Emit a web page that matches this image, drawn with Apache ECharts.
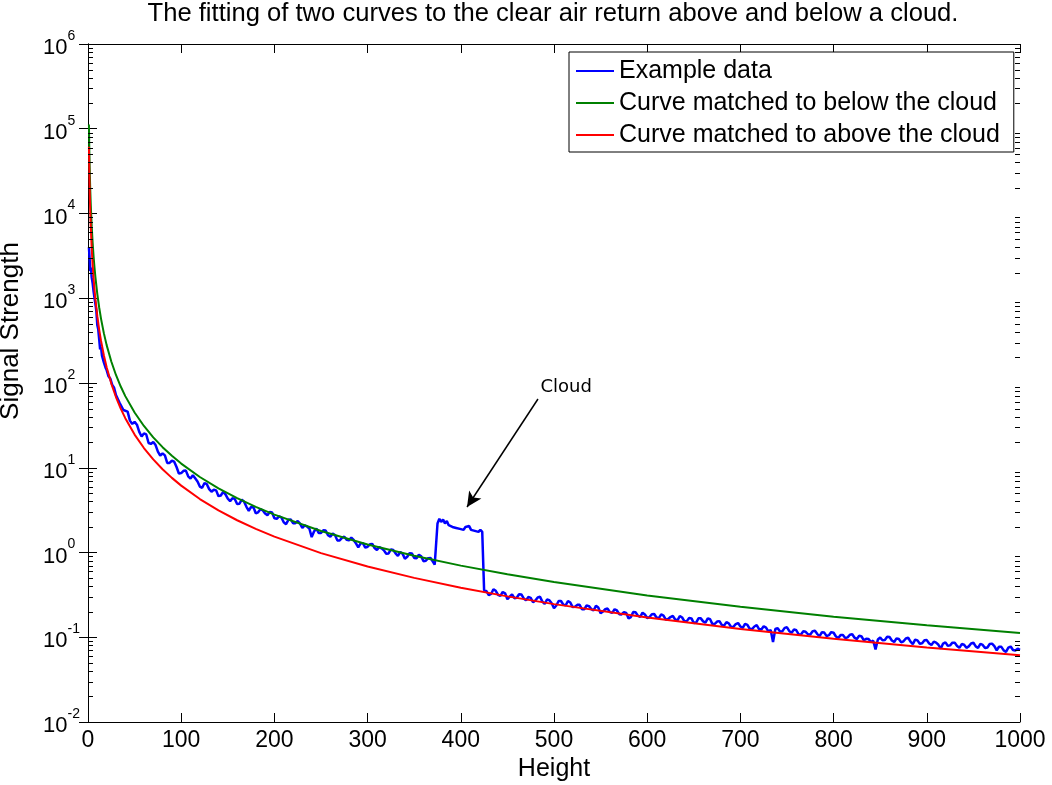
<!DOCTYPE html>
<html><head><meta charset="utf-8">
<script src="https://cdn.jsdelivr.net/npm/echarts@6/dist/echarts.min.js"></script>
<style>html,body{margin:0;padding:0;background:#fff}#c{width:1052px;height:785px}</style>
</head><body><div id="c"></div>
<script>
// ---- data ----
const titleText = 'The fitting of two curves to the clear air return above and below a cloud.';
const seriesNames = ['Example data', 'Curve matched to below the cloud', 'Curve matched to above the cloud'];
const xTickValues = [0,100,200,300,400,500,600,700,800,900,1000];
const yDecades = [-2,-1,0,1,2,3,4,5,6];
const minorMultipliers = [2,3,4,5,6,7,8,9];

const blueHeight = [
  1,2,2.5,3,4,5,6,7,8,9,10,11,12,13,14,15,16,17,18,19,20,22,24,26,28,30,32,34,36,38,
  40,45,50,55,60,65,70,75,80,85,90,95,100,105,110,115,120,125,130,135,140,145,150,155,160,165,170,175,180,185,
  190,195,200,205,210,215,220,225,230,235,240,245,250,255,260,265,270,275,280,285,290,295,300,305,310,315,320,325,
  330,335,340,345,350,355,360,365,370,374,
  375,377,379,381,383,385,387,389,391,393,395,397,399,401,403,405,407,409,411,413,415,417,419,421,423,424.5,
  425,430,435,440,445,450,455,460,465,470,475,480,485,490,495,500,505,510,515,520,525,530,535,540,545,550,
  555,560,565,570,575,580,585,590,595,600,605,610,615,620,625,630,635,640,645,650,655,660,665,670,675,680,
  685,690,695,700,705,710,715,720,725,730,735,740,745,750,755,760,765,770,775,780,785,790,795,800,805,810,
  815,820,825,830,835,840,845,850,855,860,865,870,875,880,885,890,895,900,905,910,915,920,925,930,935,940,
  945,950,955,960,965,970,975,980,985,990,995,1000
];
const blueSignal = [
  4000,3800,2100,2300,1750,1500,1200,1150,850,700,480,430,330,250,265,210,200,175,168,150,142,120,112,95,88,72,70,58,57,48,
  50,36,34.8,26.5,25.4,19.6,20.1,15.5,14.8,11.4,12.1,10.2,8.65,9.25,7.45,7.5,6.0,6.6,5.6,5.5,4.62,5.2,4.32,4.36,3.74,4.2,3.46,3.45,2.9,3.24,
  2.88,3.0,2.53,2.67,2.27,2.43,2.22,2.35,1.95,2.03,1.52,1.92,1.70,1.82,1.54,1.61,1.385,1.54,1.39,1.405,1.15,1.29,1.17,1.26,1.07,1.12,0.965,1.09,
  0.977,1.01,0.845,0.98,0.86,0.94,0.79,0.857,0.78,0.76,
  2.2,2.5,2.3,2.45,2.2,2.35,2.1,2.2,2.0,2.1,1.95,2.05,1.9,2.0,1.85,2.0,1.9,2.05,1.85,1.95,1.8,1.9,1.75,1.85,1.75,1.75,
  0.36,0.314,0.369,0.317,0.342,0.281,0.321,0.293,0.32,0.272,0.292,0.272,0.30,0.247,0.274,0.22,0.268,0.243,0.268,0.227,0.241,0.214,0.237,0.215,0.235,0.192,
  0.214,0.198,0.214,0.187,0.197,0.167,0.198,0.18,0.195,0.1685,0.187,0.171,0.186,0.161,0.173,0.162,0.178,0.154,0.169,0.147,0.167,0.154,0.167,0.143,0.153,0.14,
  0.151,0.132,0.143,0.134,0.144,0.126,0.134,0.125,0.135,0.117,0.088,0.128,0.118,0.131,0.113,0.121,0.1075,0.116,0.108,0.119,0.103,0.1136,0.1057,0.113,0.0978,0.106,
  0.0996,0.1086,0.0952,0.102,0.0958,0.0879,0.072,0.0991,0.0928,0.1005,0.0879,0.0954,0.0895,0.0986,0.0831,0.0919,0.0848,0.0925,0.0812,0.0863,0.0735,0.087,0.0802,0.0859,0.0751,0.0816,
  0.078,0.086,0.0747,0.0811,0.0756,0.0841,0.0702,0.077,0.0673,0.0777,0.0696,0.0711
];
// extra in-between samples of the noisy trace
const blueHeightExtra = [
  42.5,47.5,52.5,57.5,62.5,67.5,72.5,77.5,82.5,87.5,92.5,97.5,102.5,107.5,112.5,117.5,122.5,127.5,132.5,137.5,
  142.5,147.5,152.5,157.5,162.5,167.5,172.5,177.5,182.5,187.5,192.5,197.5,202.5,207.5,212.5,217.5,222.5,227.5,232.5,237.5,
  242.5,247.5,252.5,257.5,262.5,267.5,272.5,277.5,282.5,287.5,292.5,297.5,302.5,307.5,312.5,317.5,322.5,327.5,332.5,337.5,
  342.5,347.5,352.5,357.5,362.5,367.5,372,
  427.5,432.5,437.5,442.5,447.5,452.5,457.5,462.5,467.5,472.5,477.5,482.5,487.5,492.5,497.5,502.5,507.5,512.5,517.5,522.5,
  527.5,532.5,537.5,542.5,547.5,552.5,557.5,562.5,567.5,572.5,577.5,582.5,587.5,592.5,597.5,602.5,607.5,612.5,617.5,622.5,
  627.5,632.5,637.5,642.5,647.5,652.5,657.5,662.5,667.5,672.5,677.5,682.5,687.5,692.5,697.5,702.5,707.5,712.5,717.5,722.5,
  727.5,732.5,737.5,742.5,747.5,752.5,757.5,762.5,767.5,772.5,777.5,782.5,787.5,792.5,797.5,802.5,807.5,812.5,817.5,822.5,
  827.5,832.5,837.5,842.5,847.5,852.5,857.5,862.5,867.5,872.5,877.5,882.5,887.5,892.5,897.5,902.5,907.5,912.5,917.5,922.5,
  927.5,932.5,937.5,942.5,947.5,952.5,957.5,962.5,967.5,972.5,977.5,982.5,987.5,992.5,997.5
];
const blueSignalExtra = [
  46,32.9,32.2,23.4,24.7,19.1,18.5,13.9,14.0,11.4,11.8,8.55,9.2,7.93,8.15,6.9,5.8,6.4,5.22,5.41,
  4.71,4.86,4.04,4.29,3.77,3.98,3.11,3.43,2.98,3.15,2.76,2.96,2.5,2.59,2.16,2.46,2.22,2.19,2.09,1.92,
  1.77,1.70,1.83,1.6,1.67,1.39,1.49,1.41,1.5,1.28,1.28,1.14,1.25,1.13,1.16,1.06,0.975,1.07,0.91,0.97,
  0.89,0.975,0.855,0.9,0.8,0.86,0.72,
  0.35,0.324,0.353,0.307,0.33,0.301,0.289,0.322,0.287,0.299,0.259,0.295,0.263,0.279,0.252,0.237,0.268,0.238,0.257,0.229,
  0.241,0.214,0.233,0.207,0.224,0.201,0.218,0.194,0.207,0.186,0.193,0.173,0.197,0.174,0.186,0.173,0.188,0.168,0.18,0.164,
  0.179,0.158,0.171,0.155,0.167,0.149,0.167,0.149,0.163,0.144,0.155,0.137,0.146,0.133,0.147,0.129,0.14,0.125,0.139,0.1235,
  0.13,0.122,0.125,0.117,0.129,0.118,0.124,0.108,0.1175,0.1085,0.118,0.109,0.1147,0.103,0.115,0.102,0.106,0.0977,0.1072,0.0988,
  0.1045,0.092,0.0955,0.091,0.094,0.0921,0.1015,0.0914,0.0971,0.0869,0.0968,0.089,0.0936,0.084,0.0922,0.0843,0.0888,0.0815,0.0843,0.0794,
  0.0863,0.0789,0.0831,0.075,0.0845,0.078,0.0834,0.0745,0.0831,0.0787,0.0773,0.07,0.0754,0.0707,0.0732
];

const curveHeight = [1,1.5,2,2.5,3,4,5,6,7,8,10,12,14,17,20,25,30,35,40,50,60,70,80,90,100,120,140,160,180,200,250,300,350,400,450,500,600,700,800,900,1000];
const belowCloudCurve = [112000,49778,28000,17920,12444,7000,4480,3111,2286,1750,1120,777.8,571.4,387.5,280,179.2,124.4,91.43,70,44.8,31.11,22.86,17.5,13.83,11.2,7.778,5.714,4.375,3.457,2.8,1.792,1.244,0.9143,0.7,0.5531,0.448,0.3111,0.2286,0.175,0.1383,0.112];
const aboveCloudCurve = [61500,27333,15375,9840,6833,3844,2460,1708,1255,961,615,427.1,313.8,212.8,153.8,98.4,68.33,50.2,38.44,24.6,17.08,12.55,9.61,7.593,6.15,4.271,3.138,2.402,1.898,1.538,0.984,0.6833,0.502,0.3844,0.3037,0.246,0.1708,0.1255,0.0961,0.0759,0.0615];

const cloudLabel = 'Cloud';
const cloudLabelAt = [513, 89.8];
const cloudArrowFrom = [482.8, 64.7];
const cloudArrowTo = [406.7, 3.44];

// ---- build ----
const zip = (xs, ys) => xs.map((x, i) => [x, ys[i]]);
const blueData = zip(blueHeight, blueSignal).concat(zip(blueHeightExtra, blueSignalExtra)).sort((a, b) => a[0] - b[0]);
const minorTicks = [];
yDecades.slice(0, -1).forEach(d => minorMultipliers.forEach(m => minorTicks.push([0, m * Math.pow(10, d)])));

const FONT = 'Liberation Sans';
const axisLineStyle = {show: true, lineStyle: {color: '#000', width: 1}};
const chart = echarts.init(document.getElementById('c'), null, {renderer: 'canvas'});
const yLabelFormatter = v => {
  const e = Math.round(Math.log10(v));
  return '{b|10}{s|' + e + '}';
};
chart.setOption({
  animation: false,
  backgroundColor: '#fff',
  title: {
    text: titleText, left: 553, textAlign: 'center', top: 1, padding: 0,
    textStyle: {fontFamily: FONT, fontSize: 25.6, fontWeight: 'normal', color: '#000'}
  },
  legend: {
    data: seriesNames, orient: 'vertical', left: 569, top: 52,
    padding: [3, 14, 1, 7], itemGap: 0, itemWidth: 38, itemHeight: 2, icon: 'rect',
    backgroundColor: '#fff', borderColor: '#000', borderWidth: 1, borderRadius: 0,
    textStyle: {fontFamily: FONT, fontSize: 25, color: '#000', lineHeight: 32},
    selectedMode: false
  },
  grid: {left: 88, right: 32, top: 44, bottom: 63, containLabel: false, outerBoundsMode: 'none'},
  xAxis: [{
    type: 'value', min: 0, max: 1000, interval: 100, position: 'bottom',
    axisLine: axisLineStyle,
    axisTick: {inside: true, length: 9, lineStyle: {color: '#000'}},
    axisLabel: {fontFamily: FONT, fontSize: 23, color: '#000', margin: 7, formatter: v => String(v)},
    splitLine: {show: false},
    name: 'Height', nameLocation: 'middle', nameGap: 32,
    nameTextStyle: {fontFamily: FONT, fontSize: 25, color: '#000'}
  }, {
    type: 'value', min: 0, max: 1000, interval: 100, position: 'top',
    axisLine: axisLineStyle,
    axisTick: {inside: true, length: 9, lineStyle: {color: '#000'}},
    axisLabel: {show: false}, splitLine: {show: false}
  }],
  yAxis: [{
    type: 'log', logBase: 10, min: 0.01, max: 1e6, splitNumber: 8, position: 'left',
    axisLine: axisLineStyle,
    axisTick: {inside: true, length: 9, lineStyle: {color: '#000'}},
    axisLabel: {
      formatter: yLabelFormatter, align: 'left', margin: 45,
      rich: {
        b: {fontFamily: FONT, fontSize: 22, color: '#000', lineHeight: 30, verticalAlign: 'bottom'},
        s: {fontFamily: FONT, fontSize: 14, color: '#000', lineHeight: 30, verticalAlign: 'top'}
      }
    },
    splitLine: {show: false},
    name: 'Signal Strength', nameLocation: 'middle', nameGap: 64, nameRotate: 90,
    nameTextStyle: {fontFamily: FONT, fontSize: 26, color: '#000', padding: [0, 0, 0, 104]}
  }, {
    type: 'log', logBase: 10, min: 0.01, max: 1e6, splitNumber: 8, position: 'right',
    axisLine: axisLineStyle,
    axisTick: {inside: true, length: 9, lineStyle: {color: '#000'}},
    axisLabel: {show: false}, splitLine: {show: false}
  }],
  series: [{
    name: seriesNames[0], type: 'line', data: blueData,
    showSymbol: false, symbol: 'none', z: 2,
    lineStyle: {color: '#0000ff', width: 2.5}, itemStyle: {color: '#0000ff'},
    markLine: {
      silent: true, symbol: ['none', 'arrow'], symbolSize: [11, 15],
      lineStyle: {color: '#000', width: 1.5, type: 'solid'},
      label: {show: false},
      data: [[{coord: cloudArrowFrom}, {coord: cloudArrowTo}]]
    },
    markPoint: {
      silent: true, symbol: 'circle', symbolSize: 1,
      itemStyle: {color: 'rgba(0,0,0,0)'},
      label: {show: true, position: 'inside', formatter: cloudLabel, color: '#000', fontSize: 18, fontFamily: 'DejaVu Sans'},
      data: [{coord: cloudLabelAt}]
    }
  }, {
    name: seriesNames[1], type: 'line', data: zip(curveHeight, belowCloudCurve),
    showSymbol: false, symbol: 'none', z: 3,
    lineStyle: {color: '#008000', width: 2}, itemStyle: {color: '#008000'}
  }, {
    name: seriesNames[2], type: 'line', data: zip(curveHeight, aboveCloudCurve),
    showSymbol: false, symbol: 'none', z: 4,
    lineStyle: {color: '#ff0000', width: 2}, itemStyle: {color: '#ff0000'}
  }, {
    name: 'minorTicks', type: 'custom', silent: true, z: 5,
    data: minorTicks,
    renderItem: (params, api) => {
      const v = api.value(1);
      const pL = api.coord([0, v]);
      const pR = api.coord([1000, v]);
      const y = Math.round(pL[1]) + 0.5;
      return {type: 'group', children: [
        {type: 'line', shape: {x1: pL[0], y1: y, x2: pL[0] + 5, y2: y}, style: {stroke: '#000', lineWidth: 1}},
        {type: 'line', shape: {x1: pR[0], y1: y, x2: pR[0] - 5, y2: y}, style: {stroke: '#000', lineWidth: 1}}
      ]};
    }
  }]
});
</script></body></html>
